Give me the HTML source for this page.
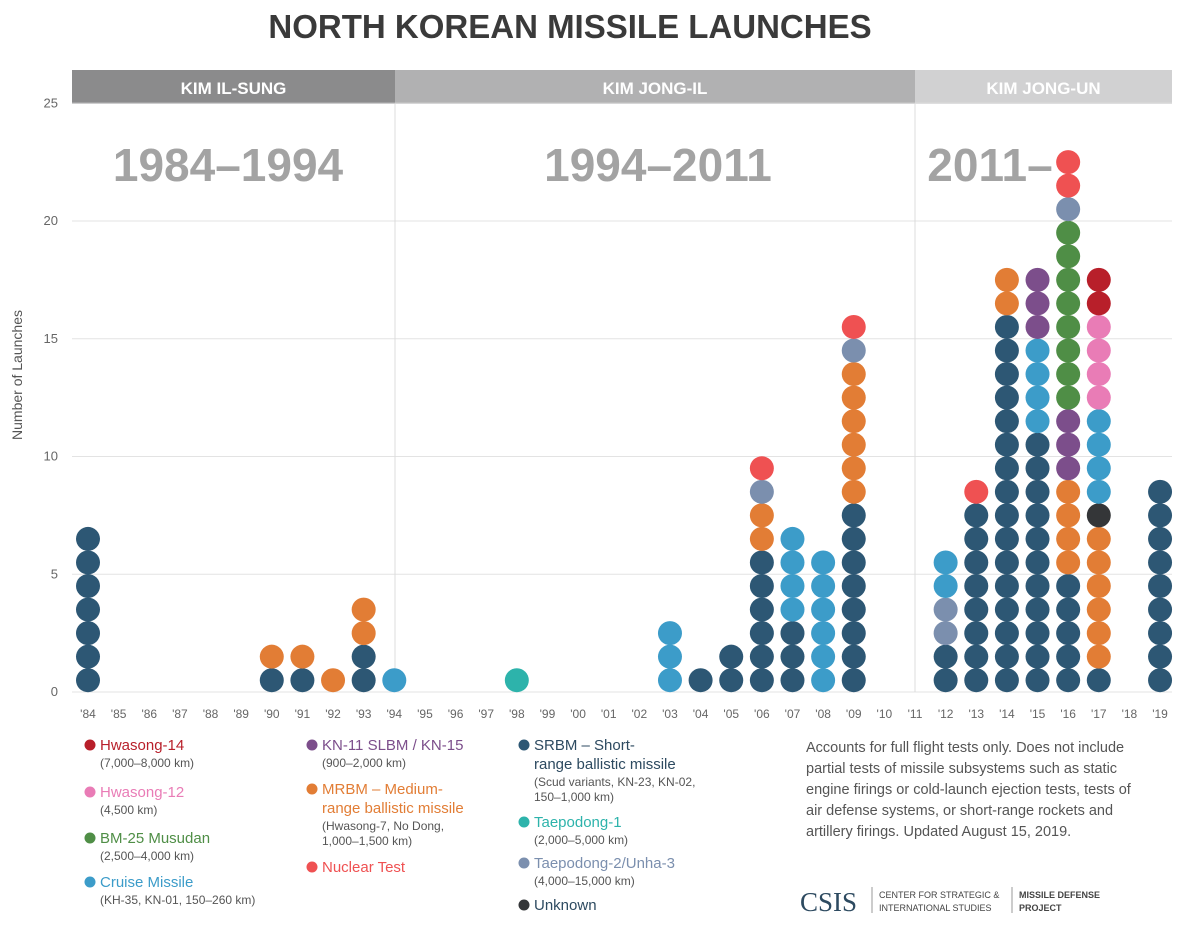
<!DOCTYPE html>
<html><head><meta charset="utf-8"><style>
body{margin:0;background:#fff;width:1200px;height:932px;overflow:hidden;font-family:"Liberation Sans",sans-serif}
</style></head><body>
<svg id="c" width="1200" height="932" xmlns="http://www.w3.org/2000/svg" font-family="Liberation Sans, sans-serif"></svg>
<script>
const years=['84','85','86','87','88','89','90','91','92','93','94','95','96','97','98','99','00','01','02','03','04','05','06','07','08','09','10','11','12','13','14','15','16','17','18','19'];
// stacks bottom-to-top: [type,count]
const stacks={
'84':[['S',7]],'90':[['S',1],['M',1]],'91':[['S',1],['M',1]],'92':[['M',1]],'93':[['S',2],['M',2]],'94':[['C',1]],'98':[['T1',1]],
'03':[['C',3]],'04':[['S',1]],'05':[['S',2]],'06':[['S',6],['M',2],['T2',1],['N',1]],'07':[['S',3],['C',4]],'08':[['C',6]],
'09':[['S',8],['M',6],['T2',1],['N',1]],'12':[['S',2],['T2',2],['C',2]],'13':[['S',8],['N',1]],'14':[['S',16],['M',2]],
'15':[['S',11],['C',4],['K',3]],'16':[['S',5],['M',4],['K',3],['B',8],['T2',1],['N',2]],
'17':[['S',1],['M',6],['U',1],['C',4],['H12',4],['H14',2]],'19':[['S',9]]};
const yTicks=[0,5,10,15,20,25];
const colors={S:'#2d5774',M:'#e27d35',C:'#3c9cc9',T1:'#2db3ab',T2:'#7b8fae',N:'#ef5152',K:'#7c4e8b',B:'#4f8e46',H12:'#e97cb6',H14:'#b81f2a',U:'#343638'};
const svg=document.getElementById('c');const NS='http://www.w3.org/2000/svg';
function el(t,a,txt){const e=document.createElementNS(NS,t);for(const k in a)e.setAttribute(k,a[k]);if(txt!=null)e.textContent=txt;svg.appendChild(e);return e;}
const xS=i=>88+i*30.63, yS=v=>692-v*23.55;
let e=el('text',{x:570,y:38,'text-anchor':'middle','font-size':33,'font-weight':'bold',fill:'#3a3a3a'},'NORTH KOREAN MISSILE LAUNCHES');


const eras=[[72,395,'#8b8b8c','KIM IL-SUNG','1984–1994',228],[395,915,'#b1b1b2','KIM JONG-IL','1994–2011',658],[915,1172,'#d1d1d2','KIM JONG-UN','2011–',990]];
eras.forEach(r=>{
 e=el('rect',{x:r[0],y:70,width:r[1]-r[0],height:34,fill:r[2]});
 
 
 e=el('text',{x:(r[0]+r[1])/2,y:94,'text-anchor':'middle','font-size':17,'font-weight':'bold',fill:'#fff'},r[3]);
 
 
 e=el('text',{x:r[5],y:181,'text-anchor':'middle','font-size':46,'font-weight':'bold',fill:'#a3a3a3'},r[4]);
 
 
});
yTicks.forEach(t=>{
 e=el('line',{x1:72,x2:1172,y1:yS(t),y2:yS(t),stroke:'#e3e3e3','stroke-width':1});
 
 
 e=el('text',{x:58,y:yS(t)+4,'text-anchor':'end','font-size':13,fill:'#666'},t);
 
 
});
[395,915].forEach(x=>{e=el('line',{x1:x,x2:x,y1:104,y2:692,stroke:'#dcdcdc'});
 
 });
e=el('text',{x:22,y:375,'text-anchor':'middle','font-size':14,fill:'#555',transform:'rotate(-90 22 375)'},'Number of Launches');


years.forEach((y,i)=>{
 e=el('text',{x:xS(i),y:718,'text-anchor':'middle','font-size':12,fill:'#666'},"'"+y);
 
 
 const st=stacks[y];if(!st)return;let n=0;
 st.forEach(([t,c])=>{for(let k=0;k<c;k++){
  e=el('circle',{cx:xS(i),cy:yS(n+0.5),r:12,fill:colors[t]});
  
  
  n++;}});
});
const leg=[[90,750,'H14','Hwasong-14','(7,000–8,000 km)'],[90,797,'H12','Hwasong-12','(4,500 km)'],[90,843,'B','BM-25 Musudan','(2,500–4,000 km)'],[90,887,'C','Cruise Missile','(KH-35, KN-01, 150–260 km)'],
[312,750,'K','KN-11 SLBM / KN-15','(900–2,000 km)'],[312,794,'M','MRBM – Medium-|range ballistic missile','(Hwasong-7, No Dong,|1,000–1,500 km)'],[312,872,'N','Nuclear Test',''],
[524,750,'S','SRBM – Short-|range ballistic missile','(Scud variants, KN-23, KN-02,|150–1,000 km)'],[524,827,'T1','Taepodong-1','(2,000–5,000 km)'],[524,868,'T2','Taepodong-2/Unha-3','(4,000–15,000 km)'],[524,910,'U','Unknown','']];
leg.forEach(l=>{
 e=el('circle',{cx:l[0],cy:l[1]-5,r:5.5,fill:colors[l[2]]});
 
 
 let y=l[1];
 l[3].split('|').forEach(s=>{e=el('text',{x:l[0]+10,y:y,'font-size':15,fill:l[2]=='U'||l[2]=='S'?'#2d4a60':colors[l[2]]},s);
 
 y+=19;});
 y-=2;
 l[4].split('|').forEach(s=>{if(!s)return;e=el('text',{x:l[0]+10,y:y,'font-size':12,fill:'#555'},s);
 
 y+=15;});
});
['Accounts for full flight tests only. Does not include','partial tests of missile subsystems such as static','engine firings or cold-launch ejection tests, tests of','air defense systems, or short-range rockets and','artillery firings. Updated August 15, 2019.'].forEach((s,i)=>{
 e=el('text',{x:806,y:752+i*21,'font-size':14.5,fill:'#555'},s);
 
 });
e=el('text',{x:800,y:911,'font-size':27,'font-family':'Liberation Serif, serif',fill:'#2d4a60'},'CSIS');


el('line',{x1:872,x2:872,y1:887,y2:913,stroke:'#999'});
el('line',{x1:1012,x2:1012,y1:887,y2:913,stroke:'#999'});
[['CENTER FOR STRATEGIC &',879,898],['INTERNATIONAL STUDIES',879,911],['MISSILE DEFENSE',1019,898],['PROJECT',1019,911]].forEach(s=>{
 e=el('text',{x:s[1],y:s[2],'font-size':9,fill:'#444','font-weight':s[1]>1000?'bold':'normal'},s[0]);
 
 });
</script>
</body></html>
